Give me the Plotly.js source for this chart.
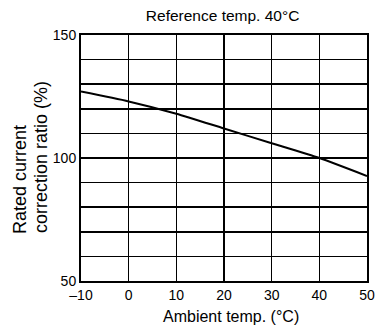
<!DOCTYPE html>
<html><head><meta charset="utf-8">
<script src="https://cdn.plot.ly/plotly-3.0.1.min.js"></script>
<style>html,body{margin:0;padding:0;background:#fff}</style>
</head><body>
<div id="chart" style="width:376px;height:331px"></div>
<script>
const ambientTemp = [-10, 0, 10, 20, 30, 40, 50];
const correctionRatio = [127, 123, 118, 112, 106, 100, 92.7];
const xTickVals = [-10, 0, 10, 20, 30, 40, 50];
const xTickText = ['\u201310', '0', '10', '20', '30', '40', '50'];
const yTickVals = [50, 100, 150];

const fam = 'Liberation Sans, Arial, sans-serif';
const f = s => ({family: fam, size: s, color: '#000'});
Plotly.newPlot('chart', [{
  x: ambientTemp, y: correctionRatio, type: 'scatter', mode: 'lines',
  line: {color: '#000', width: 2, shape: 'spline', smoothing: 0.6},
  hoverinfo: 'skip'
}], {
  width: 376, height: 331,
  margin: {l: 81, r: 9, t: 35, b: 50},
  paper_bgcolor: '#fff', plot_bgcolor: '#fff',
  showlegend: false,
  font: f(14),
  title: {text: 'Reference temp. 40°C', x: 0.592, xanchor: 'center', xref: 'container',
          y: 0.952, yanchor: 'middle', font: f(15.5)},
  xaxis: {
    range: [-10, 50], tickvals: xTickVals, ticktext: xTickText,
    showgrid: true, gridcolor: '#000', gridwidth: 1.5,
    zeroline: false, showline: true, linecolor: '#000', linewidth: 2, mirror: true,
    ticks: '', tickfont: f(14)
  },
  yaxis: {
    range: [50, 150], tickvals: yTickVals,
    showgrid: true, gridcolor: '#000', gridwidth: 1.5,
    minor: {dtick: 10, tick0: 50, showgrid: true, gridcolor: '#000', gridwidth: 1.5, ticks: ''},
    zeroline: false, showline: true, linecolor: '#000', linewidth: 2, mirror: true,
    ticks: '', tickfont: f(14)
  },
  annotations: [
    {text: 'Ambient temp. (°C)', xref: 'paper', yref: 'paper', x: 0.523, y: -0.146,
     xanchor: 'center', yanchor: 'middle', showarrow: false, font: f(16)},
    {text: 'Rated current', xref: 'paper', yref: 'paper',
     x: -0.2133, y: 0.185, xanchor: 'center', yanchor: 'bottom', textangle: -90,
     showarrow: false, font: f(18)},
    {text: 'correction ratio (%)', xref: 'paper', yref: 'paper',
     x: -0.1381, y: 0.185, xanchor: 'center', yanchor: 'bottom', textangle: -90,
     showarrow: false, font: f(18)}
  ]
}, {displayModeBar: false, staticPlot: true});
</script>
</body></html>
